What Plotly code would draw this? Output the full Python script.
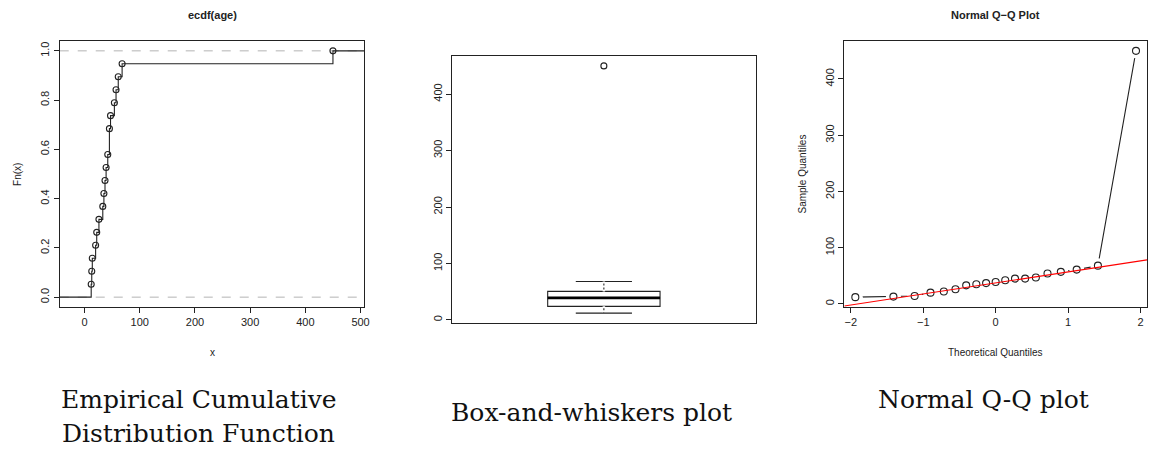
import numpy as np
import plotly.graph_objects as go

# Sample of ages (n = 19), sorted
age = [12, 13, 14, 20, 22, 26, 33, 35, 37, 39, 42, 45, 45, 47, 54, 57, 61, 68, 450]

# Theoretical normal quantiles qnorm(ppoints(19))
theo_q = [-1.938, -1.412, -1.119, -0.900, -0.716, -0.555, -0.407, -0.267, -0.132, 0.0,
          0.132, 0.267, 0.407, 0.555, 0.716, 0.900, 1.119, 1.412, 1.938]
Z75 = 0.6744898  # qnorm(0.75)

ecdf_xticks = [0, 100, 200, 300, 400, 500]
ecdf_yticks = [0.0, 0.2, 0.4, 0.6, 0.8, 1.0]
ecdf_yticklabels = ["0.0", "0.2", "0.4", "0.6", "0.8", "1.0"]
val_ticks = [0, 100, 200, 300, 400]
qq_xticks = [-2, -1, 0, 1, 2]
qq_xticklabels = ["\u22122", "\u22121", "0", "1", "2"]

W, H = 1153, 449
SANS = "Liberation Sans, Arial, sans-serif"
SERIF = "DejaVu Serif, serif"
INK = "#222222"

def px_x(a, b):
    return [a / W, b / W]

def px_y(top, bottom):
    return [1 - bottom / H, 1 - top / H]

a = np.array(age, dtype=float)
n = len(a)

# ---- ECDF ----
knots, counts = np.unique(a, return_counts=True)
Fn = np.cumsum(counts) / n
ecdf_xr = [-45, 507]
step_x = [ecdf_xr[0]] + list(knots) + [ecdf_xr[1]]
step_y = [0.0] + list(Fn) + [1.0]

# ---- quartiles (Tukey hinges coincide with linear quartiles for n = 19) ----
q1, q3 = np.percentile(a, [25, 75])
iqr = q3 - q1
lo_whisk = a[a >= q1 - 1.5 * iqr].min()
hi_whisk = a[a <= q3 + 1.5 * iqr].max()

# ---- Q-Q reference line through the quartiles ----
slope = (q3 - q1) / (2 * Z75)
intercept = q1 + slope * Z75
qq_xr = [-2.09, 2.09]
val_r = [-5.5, 467.5]

fig = go.Figure()

fig.add_trace(go.Scatter(x=step_x, y=step_y, mode="lines", line=dict(shape="hv", color=INK, width=1.1),
                         xaxis="x", yaxis="y", hoverinfo="skip"))
fig.add_trace(go.Scatter(x=knots, y=Fn, mode="markers",
                         marker=dict(symbol="circle-open", size=6, color=INK, line=dict(width=1.1)),
                         xaxis="x", yaxis="y"))

# ---- Box-and-whiskers ----
box_w = 0.37
fig.add_trace(go.Box(y=age, x0=0, width=box_w, xaxis="x2", yaxis="y2", boxpoints="outliers",
                     quartilemethod="inclusive", whiskerwidth=0.5, fillcolor="white",
                     line=dict(color=INK, width=1.1),
                     marker=dict(symbol="circle-open", size=6, color=INK, line=dict(width=1.1))))
# dashed look for the whisker stems
for y0, y1 in [(q3, hi_whisk), (q1, lo_whisk)]:
    fig.add_trace(go.Scatter(x=[0, 0], y=[y0, y1], mode="lines",
                             line=dict(color="white", width=2.5, dash="2px,2px"),
                             xaxis="x2", yaxis="y2", hoverinfo="skip"))
med = float(np.median(a))
fig.add_trace(go.Scatter(x=[-box_w / 2, box_w / 2], y=[med, med], mode="lines",
                         line=dict(color="black", width=2.6), xaxis="x2", yaxis="y2"))

# ---- Normal Q-Q ----
fig.add_trace(go.Scatter(x=theo_q, y=age, mode="lines", line=dict(color=INK, width=1.1),
                         xaxis="x3", yaxis="y3"))
fig.add_trace(go.Scatter(x=theo_q, y=age, mode="markers", marker=dict(size=15, color="white"),
                         xaxis="x3", yaxis="y3"))
fig.add_trace(go.Scatter(x=theo_q, y=age, mode="markers",
                         marker=dict(symbol="circle-open", size=7, color=INK, line=dict(width=1.1)),
                         xaxis="x3", yaxis="y3"))
fig.add_trace(go.Scatter(x=qq_xr, y=[intercept + slope * v for v in qq_xr], mode="lines",
                         line=dict(color="#ff0000", width=1.1), xaxis="x3", yaxis="y3"))

axis_common = dict(showline=True, mirror=True, linecolor=INK, linewidth=1, ticks="outside",
                   ticklen=5, tickcolor=INK, showgrid=False, zeroline=False,
                   tickfont=dict(family=SANS, size=11, color=INK))

fig.update_layout(
    width=W, height=H, margin=dict(l=0, r=0, t=0, b=0), showlegend=False,
    plot_bgcolor="white", paper_bgcolor="white",
    xaxis=dict(domain=px_x(60, 366), range=ecdf_xr, tickvals=ecdf_xticks, anchor="y", **axis_common),
    yaxis=dict(domain=px_y(41, 307), range=[-0.04, 1.04], tickvals=ecdf_yticks,
               ticktext=ecdf_yticklabels, tickangle=-90, anchor="x", **axis_common),
    xaxis2=dict(domain=px_x(454, 759), range=[-0.5, 0.5], anchor="y2", showline=True, mirror=True,
                linecolor=INK, linewidth=1, showticklabels=False, ticks="", showgrid=False,
                zeroline=False),
    yaxis2=dict(domain=px_y(56, 323), range=val_r, tickvals=val_ticks, tickangle=-90, anchor="x2",
                **axis_common),
    xaxis3=dict(domain=px_x(848, 1152), range=qq_xr, tickvals=qq_xticks, ticktext=qq_xticklabels,
                anchor="y3", **axis_common),
    yaxis3=dict(domain=px_y(41, 307), range=val_r, tickvals=val_ticks, tickangle=-90, anchor="x3",
                **axis_common),
)

fig.add_shape(type="line", xref="x domain", yref="y", x0=0, x1=1, y0=0, y1=0,
              line=dict(color="#b3b3b3", width=1, dash="dash"), layer="below")
fig.add_shape(type="line", xref="x domain", yref="y", x0=0, x1=1, y0=1, y1=1,
              line=dict(color="#b3b3b3", width=1, dash="dash"), layer="below")

def note(text, x, y, size=11, family=SANS, bold=False, angle=0, color=INK):
    if bold:
        text = "<b>" + text + "</b>"
    fig.add_annotation(text=text, x=x / W, y=1 - y / H, xref="paper", yref="paper",
                       showarrow=False, xanchor="center", yanchor="middle", textangle=angle,
                       font=dict(family=family, size=size, color=color))

note("ecdf(age)", 213, 15, size=11, bold=True)
note("Fn(x)", 17, 174, size=10, angle=-90)
note("x", 213, 352, size=10)
note("Normal Q\u2212Q Plot", 1000, 15, size=11, bold=True)
note("Sample Quantiles", 805, 174, size=10, angle=-90)
note("Theoretical Quantiles", 1000, 352, size=10)

note("Empirical Cumulative", 200, 399, size=25, family=SERIF, color="#111111")
note("Distribution Function", 199, 433, size=25, family=SERIF, color="#111111")
note("Box-and-whiskers plot", 594, 412, size=25, family=SERIF, color="#111111")
note("Normal Q-Q plot", 988, 399, size=25, family=SERIF, color="#111111")

fig.write_html("out.html")
